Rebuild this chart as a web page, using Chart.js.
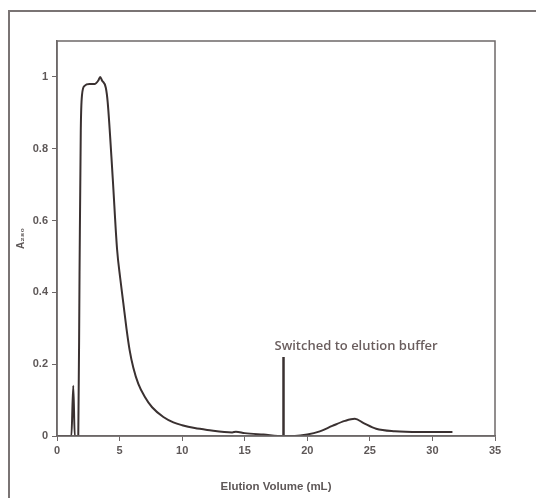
<!DOCTYPE html>
<html>
<head>
<meta charset="utf-8">
<script src="https://cdn.jsdelivr.net/npm/chart.js@4"></script>
<style>
  html, body { margin: 0; padding: 0; background: #fff; }
  #wrap { position: relative; width: 536px; height: 498px; }
  #frame { position: absolute; left: 8px; top: 10px; right: -10px; bottom: -10px;
           border-left: 2px solid #7a7474; border-top: 2px solid #7a7474; }
  canvas { position: absolute; left: 0; top: 0; }
</style>
</head>
<body>
<div id="wrap">
  <div id="frame"></div>
  <canvas id="grafica" width="536" height="498"></canvas>
</div>
<script>
// elution profile
const volumen = [0, 1.15, 1.3, 1.42, 1.7, 1.8, 1.9, 2.0, 2.2, 2.6, 3.0, 3.3, 3.45, 3.6, 3.9, 4.05, 4.45, 4.8, 5.05, 5.3, 5.55, 5.8, 6.1, 6.5, 7.0, 7.6, 8.5, 9.3, 10, 11, 12, 14, 14.3, 15, 16.5, 18.1, 19, 20, 21, 22, 23, 23.8, 24.5, 25.5, 27, 29, 31.6];
const absorbancia = [0, 0, 0.14, 0, 0, 0.45, 0.85, 0.95, 0.975, 0.98, 0.98, 0.99, 1.0, 0.99, 0.97, 0.93, 0.72, 0.52, 0.44, 0.37, 0.3, 0.24, 0.19, 0.145, 0.11, 0.08, 0.053, 0.038, 0.03, 0.022, 0.017, 0.01, 0.012, 0.008, 0.004, 0.0, 0.0, 0.004, 0.013, 0.028, 0.042, 0.048, 0.036, 0.02, 0.013, 0.011, 0.011];

// buffer switch marker
const cambioX = [18.1, 18.1];
const cambioY = [0, 0.22];
const cambioTexto = "Switched to elution buffer";

const ticksX = [0, 5, 10, 15, 20, 25, 30, 35];
const ticksY = [0, 0.2, 0.4, 0.6, 0.8, 1];

const colorLinea = "#3a3131";
const colorTexto = "#5e5858";

const marcoPlugin = {
  id: "marco",
  afterDraw(chart) {
    const { ctx, chartArea: a, scales } = chart;
    ctx.save();
    ctx.strokeStyle = "#6e6868";
    ctx.lineWidth = 1.5;
    ctx.strokeRect(a.left, a.top, a.right - a.left, a.bottom - a.top);
    ctx.fillStyle = "#6a5e5e";
    ctx.font = "600 13px 'Open Sans', sans-serif";
    ctx.textAlign = "center";
    ctx.textBaseline = "bottom";
    ctx.fillText(cambioTexto, scales.x.getPixelForValue(23.9), scales.y.getPixelForValue(0.232));
    ctx.restore();
  }
};

new Chart(document.getElementById("grafica").getContext("2d"), {
  type: "line",
  data: {
    datasets: [{
      data: volumen.map((v, i) => ({ x: v, y: absorbancia[i] })),
      borderColor: colorLinea,
      borderWidth: 2,
      pointRadius: 0,
      cubicInterpolationMode: "monotone"
    }, {
      data: cambioX.map((v, i) => ({ x: v, y: cambioY[i] })),
      borderColor: colorLinea,
      borderWidth: 2.5,
      pointRadius: 0
    }]
  },
  options: {
    responsive: false,
    animation: false,
    layout: { padding: { top: 41, right: 41, left: 11, bottom: 0 } },
    plugins: { legend: { display: false }, tooltip: { enabled: false } },
    scales: {
      x: {
        type: "linear",
        min: 0,
        max: 35,
        afterBuildTicks: s => { s.ticks = ticksX.map(v => ({ value: v })); },
        afterFit: s => { s.height = 62; },
        grid: { drawOnChartArea: false, drawTicks: true, tickLength: 5, color: "#6e6868" },
        border: { color: "#6e6868", width: 1.5 },
        ticks: { color: colorTexto, font: { family: "Arial", size: 11, weight: "bold" }, padding: 3 },
        title: { display: true, text: "Elution Volume (mL)", color: colorTexto,
                 font: { family: "Arial", size: 11.5, weight: "bold" }, padding: { top: 13 } }
      },
      y: {
        min: 0,
        max: 1.1,
        afterBuildTicks: s => { s.ticks = ticksY.map(v => ({ value: v })); },
        afterFit: s => { s.width = 46; },
        grid: { drawOnChartArea: false, drawTicks: true, tickLength: 5, color: "#6e6868" },
        border: { color: "#6e6868", width: 1.5 },
        ticks: { color: colorTexto, font: { family: "Arial", size: 11, weight: "bold" }, padding: 4,
                 callback: v => String(v) },
        title: { display: true, text: "A₂₈₀", color: colorTexto,
                 font: { family: "Arial", size: 10, weight: "bold" }, padding: { bottom: 0 } }
      }
    }
  },
  plugins: [marcoPlugin]
});
</script>
</body>
</html>
